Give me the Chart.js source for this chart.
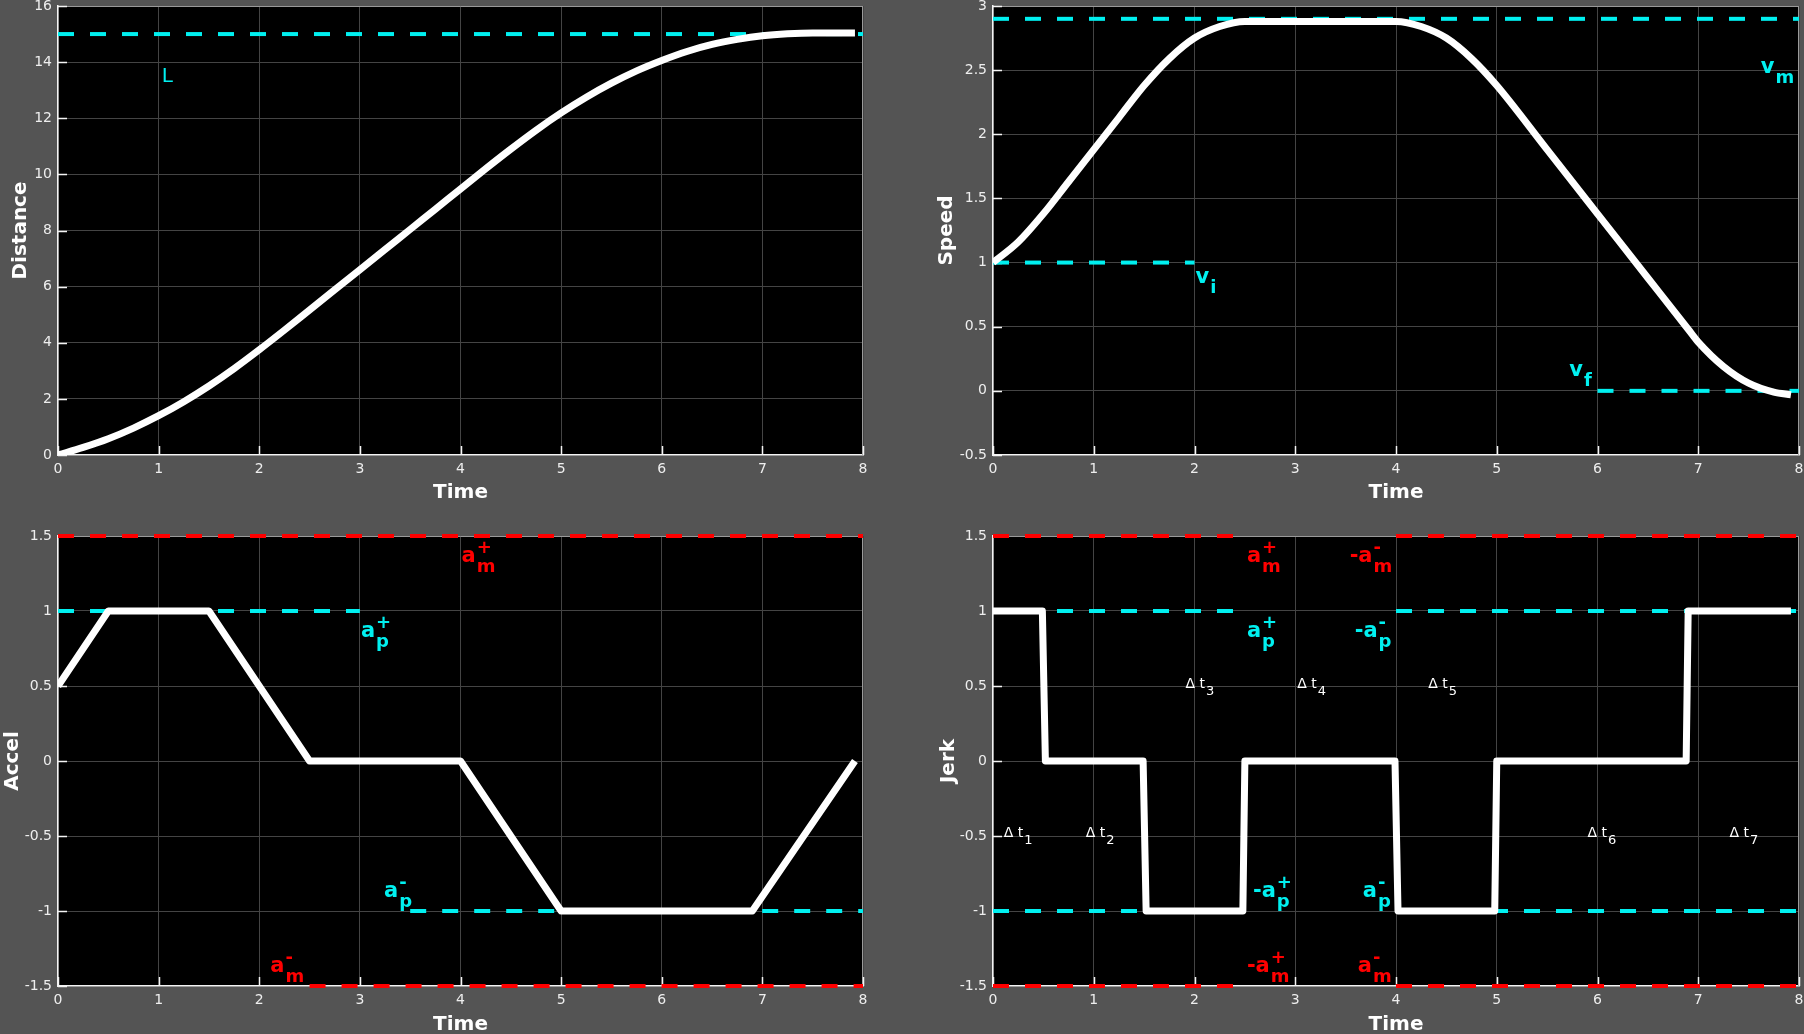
<!DOCTYPE html>
<html><head><meta charset="utf-8">
<script src="https://cdn.jsdelivr.net/npm/chart.js@4.4.1/dist/chart.umd.min.js"></script>
<style>
html,body{margin:0;padding:0;background:#545454;width:1804px;height:1034px;overflow:hidden}
.box{position:absolute;width:902px;height:517px}
canvas{display:block}
</style></head><body>
<div class="box" style="left:0;top:0"><canvas id="cDist" width="902" height="517"></canvas></div>
<div class="box" style="left:902px;top:0"><canvas id="cSpeed" width="902" height="517"></canvas></div>
<div class="box" style="left:0;top:517px"><canvas id="cAccel" width="902" height="517"></canvas></div>
<div class="box" style="left:902px;top:517px"><canvas id="cJerk" width="902" height="517"></canvas></div>
<script>
// ---------- data ----------
const timeTicks = [0, 1, 2, 3, 4, 5, 6, 7, 8];

const distT = [0,0.25,0.5,0.75,1,1.25,1.5,1.75,2,2.25,2.5,2.75,3,3.25,3.5,3.75,4,4.25,4.5,4.75,5,5.25,5.5,5.75,6,6.25,6.5,6.75,7,7.25,7.5,7.75,7.92];
const distV = [0,0.27,0.58,0.96,1.40,1.90,2.46,3.08,3.75,4.45,5.17,5.89,6.60,7.32,8.04,8.76,9.48,10.20,10.90,11.57,12.19,12.75,13.25,13.69,14.06,14.38,14.63,14.81,14.94,15.01,15.04,15.04,15.04];

const speedT = [0,0.25,0.5,0.75,1,1.25,1.5,1.75,2,2.25,2.5,3,3.5,4,4.25,4.5,4.75,5,5.5,6,6.5,6.9,7,7.25,7.5,7.75,7.92];
const speedV = [1,1.16,1.38,1.63,1.88,2.13,2.38,2.59,2.75,2.84,2.88,2.88,2.88,2.88,2.84,2.75,2.59,2.38,1.88,1.38,0.88,0.48,0.38,0.19,0.06,-0.01,-0.03];

const accelT = [0,0.5,1.5,2.5,4,5,6.9,7.92];
const accelV = [0.5,1,1,0,0,-1,-1,0];

const jerkT = [0,0.49,0.52,1.49,1.52,2.48,2.5,3.99,4.02,4.98,5.0,6.88,6.9,7.92];
const jerkV = [1,1,0,0,-1,-1,0,0,-1,-1,0,0,1,1];

// reference levels (dashed)
const distLT = [0, 8],  distLV = [15, 15];
const vmT = [0, 8],     vmV = [2.9, 2.9];
const viT = [0, 2],     viV = [1, 1];
const vfT = [6, 8],     vfV = [0, 0];
const aAmPT = [0, 8],   aAmPV = [1.5, 1.5];
const aApPT = [0, 3],   aApPV = [1, 1];
const aApMT = [3.5, 8], aApMV = [-1, -1];
const aAmMT = [2.5, 8], aAmMV = [-1.5, -1.5];
const jRedHiT = [0, 2.5, 3, 4, 8],  jRedHiV = [1.5, 1.5, null, 1.5, 1.5];
const jCyaHiT = [0, 2.5, 3, 4, 8],  jCyaHiV = [1, 1, null, 1, 1];
const jCyaLoT = [0, 2.5, 3, 4, 8],  jCyaLoV = [-1, -1, null, -1, -1];
const jRedLoT = [0, 2.5, 3, 4, 8],  jRedLoV = [-1.5, -1.5, null, -1.5, -1.5];

// text annotations: [text, subscript, superscript, x, y]
const distLabels  = [['L', '', '', 1.03, 13.29]];
const speedLabels = [['v','m','',7.62,2.48], ['v','i','',2.01,0.84], ['v','f','',5.72,0.116]];
const accelRed  = [['a','m','+',4.01,1.327], ['a','m','-',2.11,-1.407]];
const accelCyan = [['a','p','+',3.01,0.827], ['a','p','-',3.24,-0.907]];
const jerkRed  = [['a','m','+',2.52,1.327], ['-a','m','-',3.54,1.327], ['-a','m','+',2.52,-1.407], ['a','m','-',3.62,-1.407]];
const jerkCyan = [['a','p','+',2.52,0.827], ['-a','p','-',3.59,0.827], ['-a','p','+',2.58,-0.907], ['a','p','-',3.67,-0.907]];
const jerkDt = [['\u0394 t','1','',0.106,-0.505], ['\u0394 t','2','',0.92,-0.505], ['\u0394 t','3','',1.91,0.49], ['\u0394 t','4','',3.02,0.49], ['\u0394 t','5','',4.32,0.49], ['\u0394 t','6','',5.90,-0.505], ['\u0394 t','7','',7.31,-0.505]];

// ---------- styling ----------
const CYAN = '#00f0f0', RED = '#ff0000', WHITE = '#ffffff';
const FONT = 'DejaVu Sans';
Chart.defaults.font.family = FONT;
Chart.defaults.animation = false;

const pts = (T, V) => T.map((t, i) => ({x: t, y: V[i]}));
const mainDs = (T, V, smooth) => ({data: pts(T, V), borderColor: WHITE, borderWidth: 7, pointRadius: 0,
  borderJoinStyle: 'round', borderCapStyle: 'butt', cubicInterpolationMode: smooth ? 'monotone' : 'default', tension: 0, spanGaps: false});
const dashDs = (T, V, color) => ({data: pts(T, V), borderColor: color, borderWidth: 4, pointRadius: 0,
  borderDash: [16, 16], borderCapStyle: 'butt', tension: 0, spanGaps: false, clip: false});

function drawLabel(ctx, xs, ys, lab, color, size, subSize, weight, subDy, supDy) {
  const [text, sub, sup, x, y] = lab;
  const px = xs.getPixelForValue(x), py = ys.getPixelForValue(y);
  ctx.save();
  ctx.fillStyle = color; ctx.textAlign = 'left'; ctx.textBaseline = 'alphabetic';
  ctx.font = `${weight} ${size}px "${FONT}"`;
  ctx.fillText(text, px, py);
  const w = ctx.measureText(text).width;
  ctx.font = `${weight} ${subSize}px "${FONT}"`;
  if (sub) ctx.fillText(sub, px + w + 1, py + subDy);
  if (sup) ctx.fillText(sup, px + w + 1, py - supDy);
  ctx.restore();
}

const decoPlugin = {
  id: 'deco',
  beforeDraw(chart) {
    const {ctx, chartArea: a} = chart;
    ctx.save(); ctx.fillStyle = '#000'; ctx.fillRect(a.left, a.top, a.right - a.left, a.bottom - a.top); ctx.restore();
  },
  beforeDatasetsDraw(chart) {
    const {ctx, chartArea: a, scales: {x, y}} = chart;
    ctx.save();
    ctx.strokeStyle = '#9a9a9a'; ctx.lineWidth = 1;
    ctx.beginPath();
    ctx.moveTo(a.left, Math.round(a.top) + 0.5); ctx.lineTo(a.right, Math.round(a.top) + 0.5);
    ctx.moveTo(Math.round(a.right) - 0.5, a.top); ctx.lineTo(Math.round(a.right) - 0.5, a.bottom);
    ctx.stroke();
    ctx.strokeStyle = '#f4f4f4'; ctx.lineWidth = 1.5;
    ctx.beginPath();
    x.ticks.forEach(t => { const p = Math.round(x.getPixelForValue(t.value)) + 0.5; ctx.moveTo(p, a.bottom); ctx.lineTo(p, a.bottom - 9); });
    y.ticks.forEach(t => { const p = Math.round(y.getPixelForValue(t.value)) + 0.5; ctx.moveTo(a.left, p); ctx.lineTo(a.left + 9, p); });
    ctx.stroke();
    ctx.restore();
  },
  afterDraw(chart) {
    const {ctx, scales: {x, y}} = chart;
    const L = chart.options.plugins.deco || {};
    (L.labels || []).forEach(g => g.items.forEach(lab => drawLabel(ctx, x, y, lab, g.color, g.size, g.subSize, g.weight, g.subDy, g.supDy)));
  }
};
Chart.register(decoPlugin);

function makeChart(id, cfg) {
  const tickFont = {family: FONT, size: 14};
  const titleFont = {family: FONT, size: 20, weight: 'bold', lineHeight: 1};
  return new Chart(document.getElementById(id), {
    type: 'line',
    data: {datasets: cfg.datasets},
    options: {
      responsive: false, animation: false,
      layout: {padding: cfg.pad},
      plugins: {legend: {display: false}, tooltip: {enabled: false}, deco: {labels: cfg.labels}},
      scales: {
        x: {
          type: 'linear', min: 0, max: 8,
          afterBuildTicks: s => { s.ticks = timeTicks.map(v => ({value: v})); },
          ticks: {color: '#eeeeee', font: tickFont, padding: 6, maxRotation: 0, autoSkip: false, callback: v => String(v)},
          grid: {color: '#444444', drawTicks: false, lineWidth: 1},
          border: {color: '#f4f4f4', width: 1.5},
          title: {display: true, text: 'Time', color: WHITE, font: titleFont, padding: {top: 0, bottom: cfg.xTitlePad}},
          afterFit: s => { s.height = cfg.xH; s.paddingLeft = 0; s.paddingRight = 0; }
        },
        y: {
          type: 'linear', min: cfg.yMin, max: cfg.yMax,
          afterBuildTicks: s => { s.ticks = cfg.yTicks.map(v => ({value: v})); },
          ticks: {color: '#eeeeee', font: tickFont, padding: 6, autoSkip: false, callback: v => String(v)},
          grid: {color: '#444444', drawTicks: false, lineWidth: 1},
          border: {color: '#f4f4f4', width: 1.5},
          title: {display: true, text: cfg.yTitle, color: WHITE, font: titleFont, padding: {top: cfg.yTitlePad, bottom: 0}},
          afterFit: s => { s.width = cfg.yW; s.paddingTop = 0; s.paddingBottom = 0; }
        }
      }
    }
  });
}

const distTicks = [0, 2, 4, 6, 8, 10, 12, 14, 16];
const speedTicks = [-0.5, 0, 0.5, 1, 1.5, 2, 2.5, 3];
const accTicks = [-1.5, -1, -0.5, 0, 0.5, 1, 1.5];

const bigLab = (items, color) => ({items, color, size: 21, subSize: 18, weight: 'bold', subDy: 10, supDy: 9});

makeChart('cDist', {
  datasets: [mainDs(distT, distV, true), dashDs(distLT, distLV, CYAN)],
  pad: {left: 0, top: 6, right: 39, bottom: 0}, xH: 62, yW: 58, xTitlePad: 14, yTitlePad: 11,
  yMin: 0, yMax: 16, yTicks: distTicks, yTitle: 'Distance',
  labels: [{items: distLabels, color: CYAN, size: 20, subSize: 16, weight: 'normal', subDy: 8, supDy: 8}]
});
makeChart('cSpeed', {
  datasets: [mainDs(speedT, speedV, true), dashDs(vmT, vmV, CYAN), dashDs(viT, viV, CYAN), dashDs(vfT, vfV, CYAN)],
  pad: {left: 0, top: 6, right: 5, bottom: 0}, xH: 62, yW: 91, xTitlePad: 14, yTitlePad: 35,
  yMin: -0.5, yMax: 3, yTicks: speedTicks, yTitle: 'Speed',
  labels: [bigLab(speedLabels, CYAN)]
});
makeChart('cAccel', {
  datasets: [mainDs(accelT, accelV, false), dashDs(aAmPT, aAmPV, RED), dashDs(aApPT, aApPV, CYAN), dashDs(aApMT, aApMV, CYAN), dashDs(aAmMT, aAmMV, RED)],
  pad: {left: 0, top: 19, right: 39, bottom: 0}, xH: 48, yW: 58, xTitlePad: -1, yTitlePad: 3,
  yMin: -1.5, yMax: 1.5, yTicks: accTicks, yTitle: 'Accel',
  labels: [bigLab(accelRed, RED), bigLab(accelCyan, CYAN)]
});
makeChart('cJerk', {
  datasets: [mainDs(jerkT, jerkV, false), dashDs(jRedHiT, jRedHiV, RED), dashDs(jCyaHiT, jCyaHiV, CYAN), dashDs(jCyaLoT, jCyaLoV, CYAN), dashDs(jRedLoT, jRedLoV, RED)],
  pad: {left: 0, top: 19, right: 5, bottom: 0}, xH: 48, yW: 91, xTitlePad: -1, yTitlePad: 37,
  yMin: -1.5, yMax: 1.5, yTicks: accTicks, yTitle: 'Jerk',
  labels: [bigLab(jerkRed, RED), bigLab(jerkCyan, CYAN), {items: jerkDt, color: WHITE, size: 14, subSize: 13, weight: 'normal', subDy: 7, supDy: 7}]
});
</script>
</body></html>
